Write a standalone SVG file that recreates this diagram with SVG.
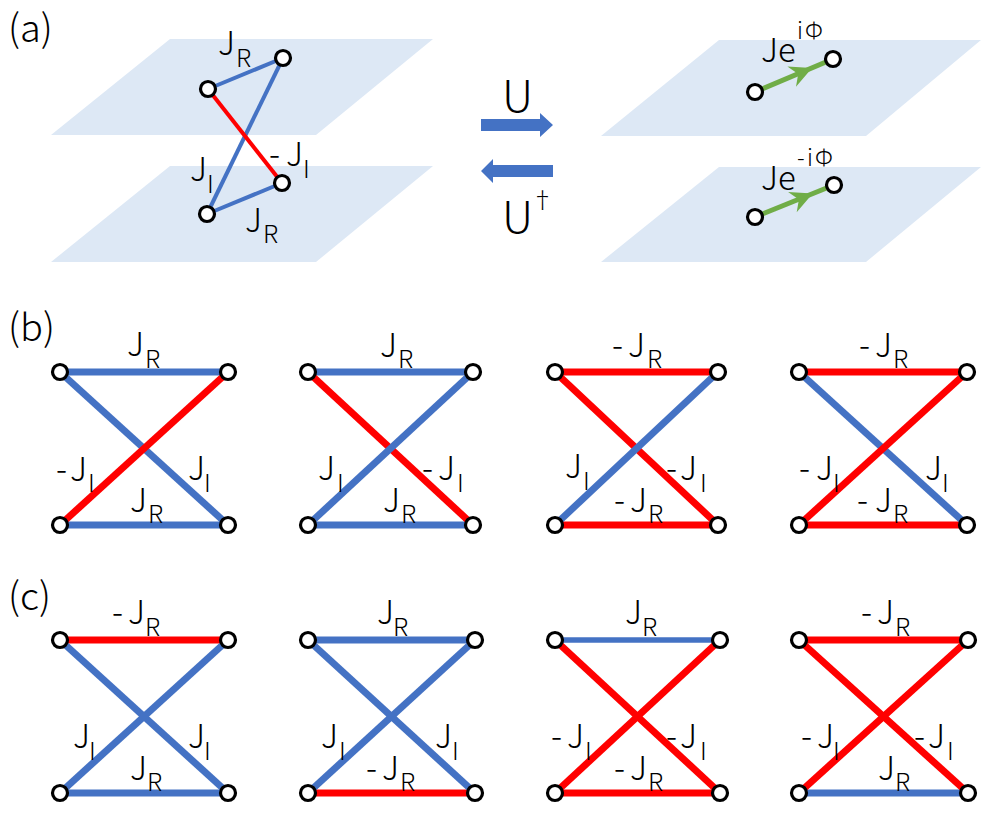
<svg xmlns="http://www.w3.org/2000/svg" width="981" height="813" viewBox="0 0 981 813">
<style>
.plane{fill:#DDE8F5}
.n{fill:#fff;stroke:#000;stroke-width:3.2}
.b{stroke:#4472C4;fill:none}
.r{stroke:#FF0000;fill:none}
.g{stroke:#70AD47;fill:none;stroke-width:5}
.w7{stroke-width:7}
.w4{stroke-width:4}
text{font-family:"Noto Sans CJK JP","Noto Sans",sans-serif;fill:#000;font-weight:300}
.t{font-size:33px}
.s{font-size:25px}
.sup{font-size:23px}
.u{font-size:44px}
.p{font-size:38px}
</style>
<rect width="981" height="813" fill="#fff"/>
<g id="planes">
<path class="plane" d="M170,39 L433,39 L316,135 L51,135 Z"/>
<path class="plane" d="M170,166 L433,166 L316,262 L51,262 Z"/>
<path class="plane" d="M719,40 L981,40 L866,136 L601,136 Z"/>
<path class="plane" d="M719,167 L981,167 L866,262 L601,262 Z"/>
</g>
<g id="connectors">
<line class="b w4" x1="208" y1="89" x2="283" y2="58"/>
<line class="b w4" x1="283" y1="58" x2="207" y2="214"/>
<line class="b w4" x1="207" y1="214" x2="282" y2="183"/>
<line class="r w4" x1="208" y1="89" x2="282" y2="183"/>
<line class="g" x1="755" y1="92" x2="833" y2="59"/>
<path fill="#70AD47" d="M812,68 L796,86.7 L798.2,73.9 L787.4,66.5 Z"/>
<line class="g" x1="755" y1="217" x2="834" y2="185"/>
<path fill="#70AD47" d="M812.7,193.6 L796.7,212.3 L798.9,199.5 L788.1,192.1 Z"/>
<path fill="#4472C4" d="M481,119 L540,119 L540,113 L553,125 L540,137 L540,131 L481,131 Z"/>
<path fill="#4472C4" d="M553,165 L493,165 L493,159 L481,171 L493,183 L493,177 L553,177 Z"/>
<line class="b w7" x1="60" y1="372" x2="228" y2="372"/>
<line class="b w7" x1="60" y1="525" x2="228" y2="525"/>
<line class="b w7" x1="60" y1="372" x2="228" y2="525"/>
<line class="r w7" x1="60" y1="525" x2="228" y2="372"/>
<line class="b w7" x1="308" y1="372" x2="473" y2="372"/>
<line class="b w7" x1="308" y1="525" x2="473" y2="525"/>
<line class="r w7" x1="308" y1="372" x2="473" y2="525"/>
<line class="b w7" x1="308" y1="525" x2="473" y2="372"/>
<line class="r w7" x1="555" y1="372" x2="718" y2="372"/>
<line class="r w7" x1="555" y1="525" x2="718" y2="525"/>
<line class="r w7" x1="555" y1="372" x2="718" y2="525"/>
<line class="b w7" x1="555" y1="525" x2="718" y2="372"/>
<line class="r w7" x1="799" y1="372" x2="967" y2="372"/>
<line class="r w7" x1="799" y1="525" x2="967" y2="525"/>
<line class="b w7" x1="799" y1="372" x2="967" y2="525"/>
<line class="r w7" x1="799" y1="525" x2="967" y2="372"/>
<line class="r w7" x1="60" y1="640" x2="228" y2="640"/>
<line class="b w7" x1="60" y1="793" x2="228" y2="793"/>
<line class="b w7" x1="60" y1="640" x2="228" y2="793"/>
<line class="b w7" x1="60" y1="793" x2="228" y2="640"/>
<line class="b w7" x1="308" y1="640" x2="475" y2="640"/>
<line class="r w7" x1="308" y1="793" x2="475" y2="793"/>
<line class="b w7" x1="308" y1="640" x2="475" y2="793"/>
<line class="b w7" x1="308" y1="793" x2="475" y2="640"/>
<line class="b" stroke-width="5.5" x1="555" y1="640" x2="720" y2="640"/>
<line class="r w7" x1="555" y1="793" x2="720" y2="793"/>
<line class="r w7" x1="555" y1="640" x2="720" y2="793"/>
<line class="r w7" x1="555" y1="793" x2="720" y2="640"/>
<line class="r w7" x1="799" y1="640" x2="968" y2="640"/>
<line class="b w7" x1="799" y1="793" x2="968" y2="793"/>
<line class="r w7" x1="799" y1="640" x2="968" y2="793"/>
<line class="r w7" x1="799" y1="793" x2="968" y2="640"/>
</g>
<g id="nodes-a">
<g id="a-n1"><circle class="n" cx="208" cy="89" r="7.5"/></g>
<g id="a-n2"><circle class="n" cx="283" cy="58" r="7.5"/></g>
<g id="a-n3"><circle class="n" cx="282" cy="183" r="7.5"/></g>
<g id="a-n4"><circle class="n" cx="207" cy="214" r="7.5"/></g>
<g id="a-n5"><circle class="n" cx="755" cy="92" r="7.5"/></g>
<g id="a-n6"><circle class="n" cx="833" cy="59" r="7.5"/></g>
<g id="a-n7"><circle class="n" cx="755" cy="217" r="7.5"/></g>
<g id="a-n8"><circle class="n" cx="834" cy="185" r="7.5"/></g>
</g>
<g id="nodes-b">
<g id="b1-tl"><circle class="n" cx="60" cy="372" r="7.5"/></g>
<g id="b1-tr"><circle class="n" cx="228" cy="372" r="7.5"/></g>
<g id="b1-bl"><circle class="n" cx="60" cy="525" r="7.5"/></g>
<g id="b1-br"><circle class="n" cx="228" cy="525" r="7.5"/></g>
<g id="b2-tl"><circle class="n" cx="308" cy="372" r="7.5"/></g>
<g id="b2-tr"><circle class="n" cx="473" cy="372" r="7.5"/></g>
<g id="b2-bl"><circle class="n" cx="308" cy="525" r="7.5"/></g>
<g id="b2-br"><circle class="n" cx="473" cy="525" r="7.5"/></g>
<g id="b3-tl"><circle class="n" cx="555" cy="372" r="7.5"/></g>
<g id="b3-tr"><circle class="n" cx="718" cy="372" r="7.5"/></g>
<g id="b3-bl"><circle class="n" cx="555" cy="525" r="7.5"/></g>
<g id="b3-br"><circle class="n" cx="718" cy="525" r="7.5"/></g>
<g id="b4-tl"><circle class="n" cx="799" cy="372" r="7.5"/></g>
<g id="b4-tr"><circle class="n" cx="967" cy="372" r="7.5"/></g>
<g id="b4-bl"><circle class="n" cx="799" cy="525" r="7.5"/></g>
<g id="b4-br"><circle class="n" cx="967" cy="525" r="7.5"/></g>
</g>
<g id="nodes-c">
<g id="c1-tl"><circle class="n" cx="60" cy="640" r="7.5"/></g>
<g id="c1-tr"><circle class="n" cx="228" cy="640" r="7.5"/></g>
<g id="c1-bl"><circle class="n" cx="60" cy="793" r="7.5"/></g>
<g id="c1-br"><circle class="n" cx="228" cy="793" r="7.5"/></g>
<g id="c2-tl"><circle class="n" cx="308" cy="640" r="7.5"/></g>
<g id="c2-tr"><circle class="n" cx="475" cy="640" r="7.5"/></g>
<g id="c2-bl"><circle class="n" cx="308" cy="793" r="7.5"/></g>
<g id="c2-br"><circle class="n" cx="475" cy="793" r="7.5"/></g>
<g id="c3-tl"><circle class="n" cx="555" cy="640" r="7.5"/></g>
<g id="c3-tr"><circle class="n" cx="720" cy="640" r="7.5"/></g>
<g id="c3-bl"><circle class="n" cx="555" cy="793" r="7.5"/></g>
<g id="c3-br"><circle class="n" cx="720" cy="793" r="7.5"/></g>
<g id="c4-tl"><circle class="n" cx="799" cy="640" r="7.5"/></g>
<g id="c4-tr"><circle class="n" cx="968" cy="640" r="7.5"/></g>
<g id="c4-bl"><circle class="n" cx="799" cy="793" r="7.5"/></g>
<g id="c4-br"><circle class="n" cx="968" cy="793" r="7.5"/></g>
</g>
<g id="labels">
<text class="p" x="8" y="42">(a)</text>
<text class="p" x="8" y="341">(b)</text>
<text class="p" x="8" y="610">(c)</text>
<text class="t"><tspan x="218" y="55">J</tspan><tspan class="s" x="236" y="67">R</tspan></text>
<text class="t"><tspan x="190" y="181">J</tspan><tspan class="s" x="207" y="193">I</tspan></text>
<text class="t"><tspan x="269" y="166">-</tspan><tspan x="286" y="166">J</tspan><tspan class="s" x="303" y="178">I</tspan></text>
<text class="t"><tspan x="245" y="232">J</tspan><tspan class="s" x="263" y="243">R</tspan></text>
<text class="u" x="502" y="112">U</text>
<text class="u"><tspan x="502" y="233">U</tspan><tspan class="sup" x="531" y="208">†</tspan></text>
<text class="t"><tspan x="761" y="62">Je</tspan><tspan class="sup" x="797" y="39">i</tspan><tspan class="sup" x="805" y="39">Φ</tspan></text>
<text class="t"><tspan x="761" y="190">Je</tspan><tspan class="sup" x="797" y="166">-</tspan><tspan class="sup" x="807" y="166">i</tspan><tspan class="sup" x="815" y="166">Φ</tspan></text>
<text class="t"><tspan x="127" y="356">J</tspan><tspan class="s" x="145" y="368">R</tspan></text>
<text class="t"><tspan x="56" y="481">-</tspan><tspan x="70" y="481">J</tspan><tspan class="s" x="88" y="492">I</tspan></text>
<text class="t"><tspan x="188" y="480">J</tspan><tspan class="s" x="204" y="492">I</tspan></text>
<text class="t"><tspan x="130" y="512">J</tspan><tspan class="s" x="148" y="523">R</tspan></text>
<text class="t"><tspan x="380" y="357">J</tspan><tspan class="s" x="398" y="368">R</tspan></text>
<text class="t"><tspan x="318" y="480">J</tspan><tspan class="s" x="337" y="492">I</tspan></text>
<text class="t"><tspan x="422" y="480">-</tspan><tspan x="438" y="480">J</tspan><tspan class="s" x="457" y="492">I</tspan></text>
<text class="t"><tspan x="383" y="512">J</tspan><tspan class="s" x="401" y="523">R</tspan></text>
<text class="t"><tspan x="612" y="357">-</tspan><tspan x="628" y="357">J</tspan><tspan class="s" x="647" y="368">R</tspan></text>
<text class="t"><tspan x="565" y="478">J</tspan><tspan class="s" x="583" y="490">I</tspan></text>
<text class="t"><tspan x="666" y="480">-</tspan><tspan x="680" y="480">J</tspan><tspan class="s" x="700" y="492">I</tspan></text>
<text class="t"><tspan x="614" y="512">-</tspan><tspan x="630" y="512">J</tspan><tspan class="s" x="648" y="523">R</tspan></text>
<text class="t"><tspan x="859" y="357">-</tspan><tspan x="875" y="357">J</tspan><tspan class="s" x="893" y="368">R</tspan></text>
<text class="t"><tspan x="799" y="480">-</tspan><tspan x="816" y="480">J</tspan><tspan class="s" x="833" y="492">I</tspan></text>
<text class="t"><tspan x="925" y="480">J</tspan><tspan class="s" x="942" y="492">I</tspan></text>
<text class="t"><tspan x="857" y="512">-</tspan><tspan x="875" y="512">J</tspan><tspan class="s" x="893" y="523">R</tspan></text>
<text class="t"><tspan x="112" y="624">-</tspan><tspan x="128" y="624">J</tspan><tspan class="s" x="145" y="636">R</tspan></text>
<text class="t"><tspan x="73" y="748">J</tspan><tspan class="s" x="89" y="760">I</tspan></text>
<text class="t"><tspan x="188" y="748">J</tspan><tspan class="s" x="204" y="760">I</tspan></text>
<text class="t"><tspan x="130" y="780">J</tspan><tspan class="s" x="147" y="791">R</tspan></text>
<text class="t"><tspan x="377" y="624">J</tspan><tspan class="s" x="393" y="636">R</tspan></text>
<text class="t"><tspan x="321" y="748">J</tspan><tspan class="s" x="339" y="760">I</tspan></text>
<text class="t"><tspan x="435" y="748">J</tspan><tspan class="s" x="452" y="760">I</tspan></text>
<text class="t"><tspan x="366" y="780">-</tspan><tspan x="382" y="780">J</tspan><tspan class="s" x="400" y="791">R</tspan></text>
<text class="t"><tspan x="625" y="624">J</tspan><tspan class="s" x="642" y="636">R</tspan></text>
<text class="t"><tspan x="551" y="748">-</tspan><tspan x="567" y="748">J</tspan><tspan class="s" x="585" y="760">I</tspan></text>
<text class="t"><tspan x="666" y="748">-</tspan><tspan x="680" y="748">J</tspan><tspan class="s" x="700" y="760">I</tspan></text>
<text class="t"><tspan x="614" y="780">-</tspan><tspan x="630" y="780">J</tspan><tspan class="s" x="648" y="791">R</tspan></text>
<text class="t"><tspan x="861" y="624">-</tspan><tspan x="877" y="624">J</tspan><tspan class="s" x="895" y="636">R</tspan></text>
<text class="t"><tspan x="801" y="748">-</tspan><tspan x="817" y="748">J</tspan><tspan class="s" x="833" y="760">I</tspan></text>
<text class="t"><tspan x="914" y="748">-</tspan><tspan x="928" y="748">J</tspan><tspan class="s" x="947" y="760">I</tspan></text>
<text class="t"><tspan x="878" y="780">J</tspan><tspan class="s" x="895" y="791">R</tspan></text>
</g>
</svg>
